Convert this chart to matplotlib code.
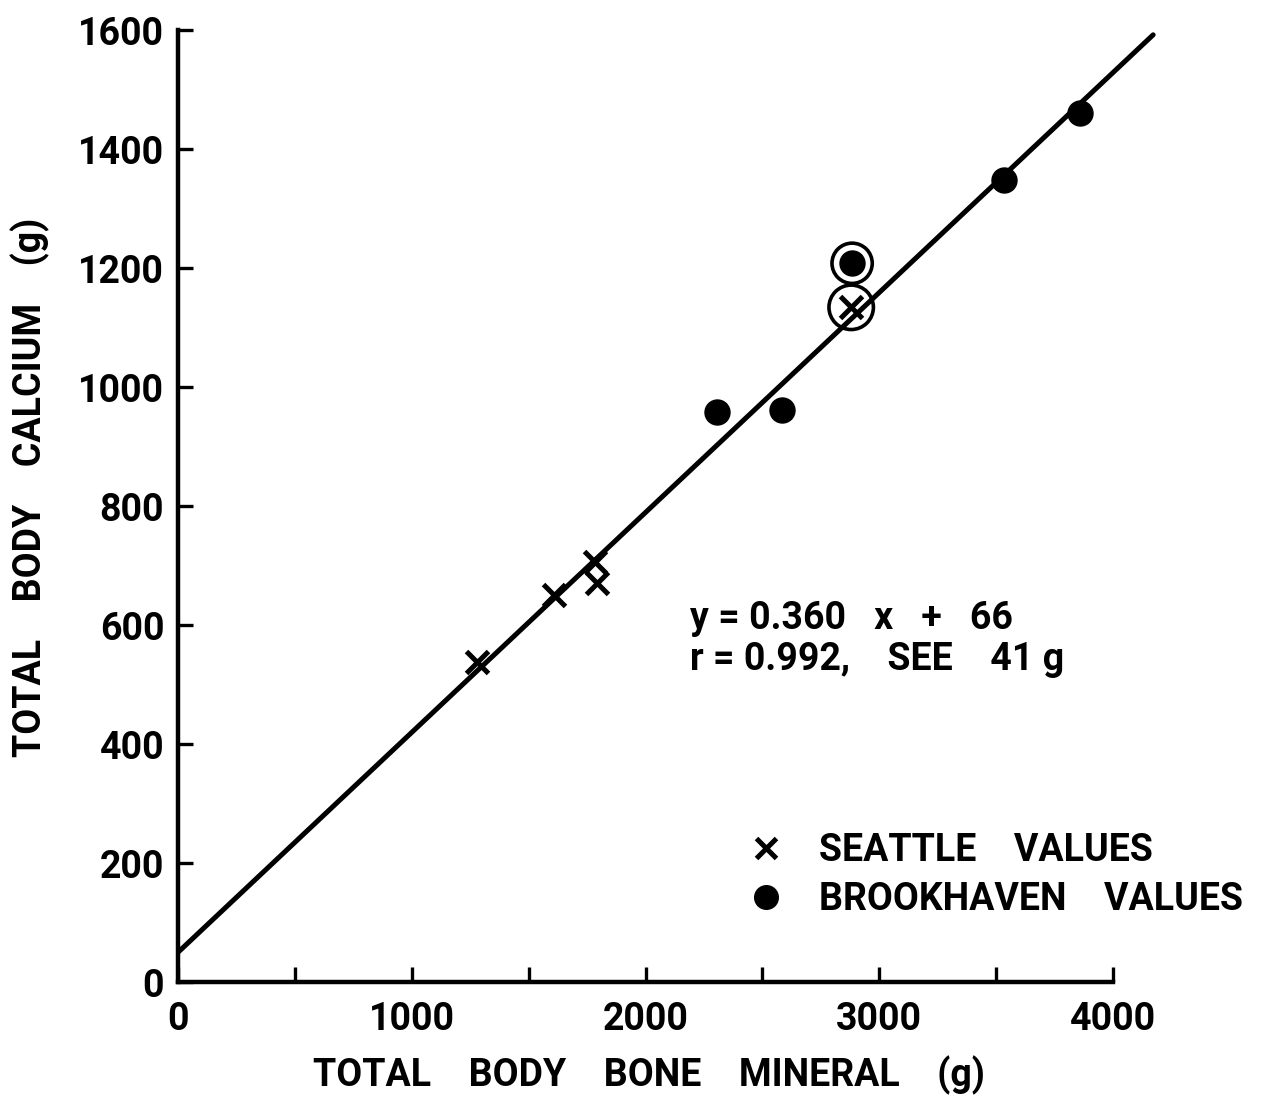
import matplotlib.pyplot as plt
from matplotlib.lines import Line2D

# ------------------------------------------------------------
# Values
# ------------------------------------------------------------
seattle_x = [1279, 1609, 1784, 1793, 2880]
seattle_y = [538, 650, 706, 671, 1134]

brookhaven_x = [2306, 2584, 2884, 3534, 3860]
brookhaven_y = [958, 961, 1208, 1348, 1461]

# points that are ringed in the original
circled_x = [2880, 2884]
circled_y = [1134, 1208]

# regression line as drawn
fit_x = [0, 4172]
fit_y = [50, 1592]

x_major = [0, 1000, 2000, 3000, 4000]
x_minor = [500, 1500, 2500, 3500]
y_major = [0, 200, 400, 600, 800, 1000, 1200, 1400, 1600]

equation_lines = ["y = 0.360   x   +   66", "r = 0.992,    SEE    41 g"]
legend_labels = ["SEATTLE    VALUES", "BROOKHAVEN    VALUES"]

# ------------------------------------------------------------
# Figure
# ------------------------------------------------------------
plt.rcParams['font.family'] = ['Roboto', 'DejaVu Sans']
plt.rcParams['font.weight'] = 'bold'
fs = 27

fig = plt.figure(figsize=(12.61, 10.97), dpi=100)
ax = fig.add_axes([0.1412, 0.1048, 0.797, 0.8895])
ax.set_xlim(0, 4300)
ax.set_ylim(0, 1640)

# fit line
ax.plot(fit_x, fit_y, color='black', lw=3.6, solid_capstyle='round', zorder=2)

# data points
ax.plot(seattle_x, seattle_y, ls='none', marker='x', ms=16,
        mew=3.6, color='black', zorder=3)
ax.plot(brookhaven_x, brookhaven_y, ls='none', marker='o', ms=18,
        color='black', zorder=3)
# rings around the duplicate points
ax.scatter(circled_x, circled_y, s=[32**2, 29**2], facecolors='none',
           edgecolors='black', linewidths=2.6, zorder=3)

# spines / ticks
for side in ['top', 'right']:
    ax.spines[side].set_visible(False)
ax.spines['left'].set_bounds(0, 1600)
ax.spines['bottom'].set_bounds(0, 4000)
ax.spines['left'].set_linewidth(3.2)
ax.spines['bottom'].set_linewidth(3.2)

ax.set_xticks(x_major)
ax.set_xticks(x_minor, minor=True)
ax.set_yticks(y_major)
ax.tick_params(which='both', direction='in', length=11, width=2.4,
               labelsize=fs)
ax.tick_params(axis='y', pad=10)
ax.tick_params(axis='x', pad=14)

# axis titles
fig.text(0.515, 0.020, "TOTAL    BODY    BONE    MINERAL    (g)", ha='center',
         va='center', fontsize=fs)
fig.text(0.024, 0.556, "TOTAL    BODY    CALCIUM    (g)", ha='center',
         va='center', rotation=90, fontsize=fs)

# regression text
fig.text(0.547, 0.4366, equation_lines[0], ha='left', va='center', fontsize=fs)
fig.text(0.547, 0.3984, equation_lines[1], ha='left', va='center', fontsize=fs)

# legend
ax.legend([Line2D([], [], ls='none', marker='x', ms=15, mew=3.6, color='black'),
           Line2D([], [], ls='none', marker='o', ms=17, color='black')],
          legend_labels,
          loc='center left', bbox_to_anchor=(0.548, 0.110), frameon=False,
          fontsize=fs, handlelength=1.0, handletextpad=0.9,
          labelspacing=0.32, borderpad=0)

fig.savefig("out.png", dpi=100)
